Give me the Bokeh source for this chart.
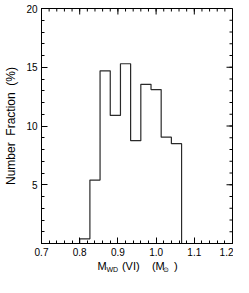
import math
from bokeh.plotting import figure
from bokeh.models import Label, FixedTicker, Range1d
from bokeh.embed import file_html
from bokeh.resources import INLINE

# ---- data ----
bin_edges = [0.800, 0.8267, 0.8533, 0.880, 0.9067, 0.9333, 0.960, 0.9867, 1.0133, 1.040, 1.0667]
fractions = [0.4, 5.4, 14.7, 10.9, 15.3, 8.75, 13.55, 13.1, 9.05, 8.5]
x_ticks = [0.7, 0.8, 0.9, 1.0, 1.1, 1.2]
x_tick_labels = ["0.7", "0.8", "0.9", "1.0", "1.1", "1.2"]
y_ticks = [5, 10, 15, 20]
y_tick_labels = ["5", "10", "15", "20"]

FONT = "Liberation Sans"
TICK_FS = "10px"
NB = "\u00a0"

# outline of histogram from edges/heights
xs, ys = [bin_edges[0]], [0]
for i, h in enumerate(fractions):
    xs += [bin_edges[i], bin_edges[i + 1]]
    ys += [h, h]
xs.append(bin_edges[-1])
ys.append(0)

p = figure(width=233, height=277, x_range=Range1d(0.7, 1.2), y_range=Range1d(0, 20),
           output_backend="svg", toolbar_location=None,
           min_border_left=41, min_border_right=1, min_border_top=8, min_border_bottom=29)
p.xgrid.visible = False
p.ygrid.visible = False
p.outline_line_color = "black"
p.outline_line_width = 1
p.background_fill_color = "white"
p.border_fill_color = "white"

p.line(xs, ys, line_color="#2a2a2a", line_width=1.2)

x_minor = [round(0.7 + 0.02 * i, 2) for i in range(26)]
y_minor = list(range(0, 21))
xt = FixedTicker(ticks=x_ticks, minor_ticks=x_minor)
yt = FixedTicker(ticks=y_ticks, minor_ticks=y_minor)


def style(ax):
    ax.axis_line_color = "black"
    ax.axis_line_width = 1
    ax.major_tick_in = 6
    ax.major_tick_out = 0
    ax.minor_tick_in = 3
    ax.minor_tick_out = 0
    ax.major_tick_line_color = "black"
    ax.minor_tick_line_color = "black"
    ax.major_label_text_font = FONT
    ax.major_label_text_font_size = TICK_FS
    ax.major_label_text_color = "black"


bx = p.xaxis[0]
bx.ticker = xt
bx.major_label_overrides = {t: s for t, s in zip(x_ticks, x_tick_labels)}
style(bx)
bx.major_label_standoff = 4

ly = p.yaxis[0]
ly.ticker = yt
ly.major_label_overrides = {t: s for t, s in zip(y_ticks, y_tick_labels)}
style(ly)
ly.major_label_standoff = 4
ly.axis_label = "Number" + NB * 2 + "Fraction" + NB * 2 + "(%)"
ly.axis_label_text_font = FONT
ly.axis_label_text_font_size = "12px"
ly.axis_label_text_font_style = "normal"
ly.axis_label_text_color = "black"
ly.axis_label_standoff = 5

# mirrored inward ticks on top and right edges
p.ray(x=x_ticks, y=[20] * len(x_ticks), length=6, length_units="screen",
      angle=-math.pi / 2, line_color="black", line_width=1)
p.ray(x=x_minor, y=[20] * len(x_minor), length=3, length_units="screen",
      angle=-math.pi / 2, line_color="black", line_width=1)
p.ray(x=[1.2] * len(y_ticks), y=y_ticks, length=6, length_units="screen",
      angle=math.pi, line_color="black", line_width=1)
p.ray(x=[1.2] * len(y_minor), y=y_minor, length=3, length_units="screen",
      angle=math.pi, line_color="black", line_width=1)

# x-axis title: main text and subscripts as two labels below the axis
main_txt = "M" + NB * 5 + "(VI)" + NB * 4 + "(M" + NB * 3 + ")"
sub_txt = "WD" + NB * 23 + "\u2299"
p.add_layout(Label(x=0.8466, y=-1, x_units="data", y_units="screen", text=main_txt,
                   text_font=FONT, text_font_size="11px", text_color="black",
                   text_baseline="bottom", text_align="left"), "below")
p.add_layout(Label(x=0.8702, y=5, x_units="data", y_units="screen", text=sub_txt,
                   text_font=FONT, text_font_size="7px", text_color="black",
                   text_baseline="bottom", text_align="left"), "below")

open("out.html", "w").write(file_html(p, INLINE))
